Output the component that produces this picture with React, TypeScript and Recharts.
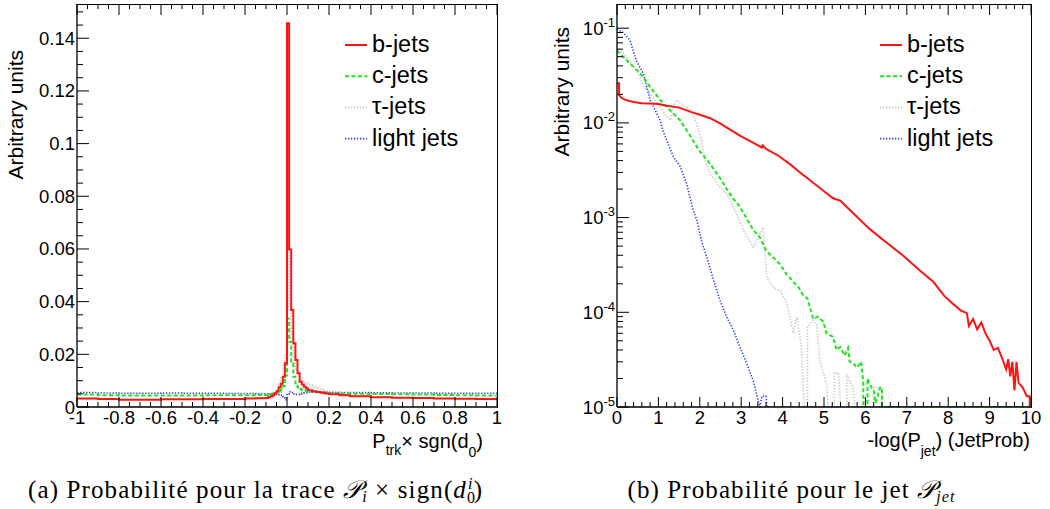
import React from 'react';
import { LineChart, Line, XAxis, YAxis, Legend } from 'recharts';

const SANS = '"Liberation Sans", Arial, Helvetica, sans-serif';
const SERIF = '"Liberation Serif", "DejaVu Serif", "DejaVu Sans", serif';
const INK = '#000';

// ---- (a) track probability x sign(d0), linear scale ----
// lower bin edges, the last entry closes the histogram at x = 1
const trkEdges = [
  -1, -0.9, -0.8, -0.7, -0.6, -0.5, -0.4, -0.3, -0.2, -0.15,
  -0.1, -0.09, -0.08, -0.07, -0.06, -0.05, -0.04, -0.03, -0.02, -0.01,
  0, 0.01, 0.02, 0.03, 0.04, 0.05, 0.06, 0.07, 0.08, 0.09,
  0.1, 0.12, 0.14, 0.16, 0.18, 0.2, 0.25, 0.3, 0.4, 0.5,
  0.6, 0.7, 0.8, 0.9, 1,
];
const trkB = [
  0.0032, 0.0030, 0.0028, 0.0028, 0.0029, 0.0029, 0.0030, 0.0030, 0.0032, 0.0033,
  0.0034, 0.0037, 0.0040, 0.0045, 0.0052, 0.0060, 0.0075, 0.0088, 0.0115, 0.0166,
  0.1457, 0.0598, 0.0368, 0.0242, 0.0178, 0.0128, 0.0096, 0.0085, 0.0077, 0.0070,
  0.0064, 0.0060, 0.0057, 0.0054, 0.0051, 0.0048, 0.0045, 0.0041, 0.0037, 0.0035,
  0.0034, 0.0032, 0.0031, 0.0030, 0.0030,
];
const trkC = [
  0.0047, 0.0045, 0.0044, 0.0044, 0.0044, 0.0044, 0.0045, 0.0045, 0.0045, 0.0046,
  0.0046, 0.0047, 0.0048, 0.0050, 0.0052, 0.0055, 0.0058, 0.0066, 0.0080, 0.0120,
  0.0335, 0.0248, 0.0166, 0.0115, 0.0090, 0.0075, 0.0068, 0.0064, 0.0062, 0.0060,
  0.0059, 0.0058, 0.0057, 0.0055, 0.0053, 0.0052, 0.0051, 0.0050, 0.0049, 0.0048,
  0.0047, 0.0046, 0.0045, 0.0044, 0.0044,
];
const trkTau = [
  0.0031, 0.0030, 0.0029, 0.0029, 0.0029, 0.0030, 0.0030, 0.0031, 0.0033, 0.0035,
  0.0038, 0.0042, 0.0046, 0.0052, 0.0058, 0.0065, 0.0085, 0.0110, 0.0166, 0.0200,
  0.0600, 0.0370, 0.0260, 0.0190, 0.0145, 0.0125, 0.0115, 0.0100, 0.0096, 0.0090,
  0.0083, 0.0075, 0.0071, 0.0065, 0.0060, 0.0054, 0.0048, 0.0042, 0.0038, 0.0035,
  0.0033, 0.0031, 0.0030, 0.0029, 0.0029,
];
const trkLight = [
  0.0055, 0.0053, 0.0052, 0.0052, 0.0053, 0.0052, 0.0052, 0.0051, 0.0051, 0.0050,
  0.0050, 0.0050, 0.0049, 0.0049, 0.0048, 0.0048, 0.0047, 0.0045, 0.0040, 0.0028,
  0.0050, 0.0058, 0.0055, 0.0050, 0.0048, 0.0048, 0.0050, 0.0052, 0.0053, 0.0054,
  0.0056, 0.0056, 0.0057, 0.0057, 0.0056, 0.0056, 0.0055, 0.0055, 0.0054, 0.0053,
  0.0053, 0.0052, 0.0052, 0.0052, 0.0052,
];
const trkMajorX = [-1, -0.8, -0.6, -0.4, -0.2, 0, 0.2, 0.4, 0.6, 0.8, 1];
const trkMajorY = [0, 0.02, 0.04, 0.06, 0.08, 0.1, 0.12, 0.14];
const trkRangeX = [-1, 1];
const trkRangeY = [0, 0.153];

// ---- (b) jet probability, log scale: [x, value] ----
// 1e-5 = empty bin, drawn on the bottom of the frame
const jetB: [number, number][] = [
  [0, 0.0262], [0.05, 0.0262], [0.05, 0.0197], [0.1, 0.0185], [0.2, 0.0175],
  [0.4, 0.0166], [0.6, 0.0161], [0.8, 0.016], [1.0, 0.0158], [1.2, 0.0152],
  [1.5, 0.0145], [1.8, 0.013], [2.0, 0.0122], [2.25, 0.0112], [2.5, 0.0098],
  [2.75, 0.0084], [3.0, 0.0072], [3.25, 0.0063], [3.5, 0.0055], [3.52, 0.0058],
  [3.6, 0.0053], [3.9, 0.0045], [4.2, 0.0036], [4.42, 0.003], [4.6, 0.0026],
  [5.0, 0.0019], [5.22, 0.0016], [5.4, 0.0015], [5.7, 0.00112], [6.1, 0.00076],
  [6.5, 0.00055], [6.9, 0.0004], [7.3, 0.00028], [7.64, 0.00021], [7.9, 0.00015],
  [8.05, 0.00013], [8.3, 0.000105], [8.45, 0.000098], [8.5, 0.000072], [8.6, 0.000085],
  [8.7, 0.000066], [8.8, 0.000078], [8.9, 0.00006], [9.0, 0.00005], [9.1, 0.00004],
  [9.2, 0.000042], [9.3, 0.000033], [9.4, 0.000025], [9.45, 0.000032], [9.5, 0.000021],
  [9.55, 0.00003], [9.6, 0.000015], [9.65, 0.00003], [9.7, 0.000018], [9.8, 0.000016],
  [9.9, 0.000013], [9.97, 0.000013], [9.97, 1e-5], [10, 1e-5],
];
const jetC: [number, number][] = [
  [0, 0.058], [0.25, 0.045], [0.56, 0.0334], [0.8, 0.024], [1.04, 0.0175],
  [1.2, 0.0148], [1.52, 0.0107], [1.75, 0.0075], [2.0, 0.005], [2.25, 0.0037],
  [2.49, 0.0026], [2.65, 0.002], [2.8, 0.0016], [2.97, 0.0013], [3.16, 0.00093],
  [3.29, 0.00074], [3.45, 0.00062], [3.6, 0.00045], [3.77, 0.00038], [3.94, 0.00032],
  [4.1, 0.00025], [4.18, 0.00023], [4.3, 0.0002], [4.4, 0.00018], [4.5, 0.00015],
  [4.6, 0.00014], [4.74, 0.000085], [4.85, 0.00009], [4.98, 0.00008], [5.06, 0.00006],
  [5.22, 0.000055], [5.3, 0.00004], [5.39, 0.000043], [5.5, 0.000035], [5.58, 0.000042],
  [5.62, 0.00003], [5.7, 0.000029], [5.8, 0.000026], [5.9, 0.00003], [5.95, 0.000018],
  [5.95, 1e-5], [6.05, 1e-5], [6.05, 0.00002], [6.15, 0.000016], [6.2, 0.000015],
  [6.25, 0.000011], [6.35, 0.000016], [6.4, 0.000016], [6.4, 1e-5], [10, 1e-5],
];
const jetTau: [number, number][] = [
  [0, 0.065], [0.25, 0.048], [0.47, 0.036], [0.64, 0.025], [0.85, 0.019],
  [1.04, 0.0148], [1.2, 0.0116], [1.3, 0.0107], [1.35, 0.015], [1.44, 0.0174],
  [1.52, 0.0163], [1.65, 0.015], [1.76, 0.0137], [1.9, 0.0105], [2.0, 0.0078],
  [2.13, 0.004], [2.25, 0.0029], [2.49, 0.0021], [2.65, 0.0018], [2.89, 0.0011],
  [3.05, 0.00074], [3.29, 0.00049], [3.4, 0.0006], [3.53, 0.00079], [3.6, 0.0003],
  [3.62, 0.00023], [3.8, 0.00018], [3.94, 0.00017], [4.1, 0.000125], [4.26, 0.00006],
  [4.34, 0.000089], [4.45, 0.000046], [4.52, 1e-5], [4.6, 1e-5], [4.6, 0.00007],
  [4.74, 0.000082], [4.82, 0.000075], [4.9, 0.000031], [5.06, 0.0000176], [5.1, 1e-5],
  [5.25, 1e-5], [5.25, 0.000023], [5.35, 0.000023], [5.4, 1e-5], [5.55, 1e-5],
  [5.55, 0.000022], [5.7, 0.000016], [5.75, 1e-5], [6.2, 1e-5], [6.2, 0.000016],
  [6.4, 0.000016], [6.4, 1e-5], [10, 1e-5],
];
const jetLight: [number, number][] = [
  [0, 0.098], [0.15, 0.09], [0.31, 0.075], [0.47, 0.045], [0.64, 0.033],
  [0.8, 0.0174], [0.88, 0.0148], [1.04, 0.0107], [1.12, 0.008], [1.2, 0.0066],
  [1.36, 0.0044], [1.52, 0.0035], [1.68, 0.0023], [1.84, 0.0012], [1.93, 0.00093],
  [2.05, 0.00055], [2.17, 0.00038], [2.33, 0.00022], [2.49, 0.000133], [2.65, 0.000089],
  [2.81, 0.000065], [2.97, 0.000043], [3.13, 0.000029], [3.29, 0.000019], [3.41, 0.0000117],
  [3.45, 1e-5], [3.5, 0.000013], [3.6, 0.000013], [3.62, 1e-5], [10, 1e-5],
];
const jetMajorX = [0, 1, 2, 3, 4, 5, 6, 7, 8, 9, 10];
const jetMajorY = [1e-5, 1e-4, 1e-3, 1e-2, 1e-1];
const jetRangeX = [0, 10];
const jetRangeY = [1e-5, 0.18];

const styles: Record<string, { color: string; dash?: string; width: number }> = {
  'b-jets': { color: '#ff1414', width: 2 },
  'c-jets': { color: '#1fe41f', dash: '4 2.5', width: 2 },
  'τ-jets': { color: '#c9c4bf', dash: '1.3 1.7', width: 1.6 },
  'light jets': { color: '#2a3bff', dash: '1.3 1.7', width: 1.6 },
};
const legendOrder = ['b-jets', 'c-jets', 'τ-jets', 'light jets'];

const trkRows = trkEdges.map((x, i) => ({
  x, b: trkB[i], c: trkC[i], tau: trkTau[i], light: trkLight[i],
}));
const toRows = (pts: [number, number][]) => pts.map(([x, v]) => ({ x, v }));

// axis decoration: every minor position, majors get the long tick and a label
const steps = (from: number, to: number, step: number) => {
  const n = Math.round((to - from) / step);
  const out: number[] = [];
  for (let i = 0; i <= n; i++) out.push(+(from + i * step).toFixed(6));
  return out;
};
const logSteps = () => {
  const out: number[] = [];
  for (let e = -5; e <= -1; e++)
    for (let k = 1; k <= 9; k++) {
      const v = +(k * Math.pow(10, e)).toPrecision(6);
      if (v <= 0.18) out.push(v);
    }
  return out;
};
const trkTicksX = steps(-1, 1, 0.05);
const trkTicksY = steps(0, 0.15, 0.005);
const jetTicksX = steps(0, 10, 0.2);
const jetTicksY = logSteps();

const near = (a: number, b: number) =>
  Math.abs(a - b) <= 1e-6 * Math.max(Math.abs(a), Math.abs(b), 1e-9);
const isMajor = (v: number, majors: number[]) => majors.some((m) => near(m, v));

const fmtNum = (v: number) => String(+v.toFixed(3));
const fmtPow = (v: number) => (
  <>
    10<tspan dy={-8} fontSize={13}>{Math.round(Math.log10(v))}</tspan>
  </>
);

const bottomTick = (majors: number[], fmt: (v: number) => React.ReactNode) => (p: any) => {
  const v = p.payload.value;
  const major = isMajor(v, majors);
  return (
    <g>
      <line x1={p.x} x2={p.x} y1={p.y} y2={p.y - (major ? 10 : 5)} stroke={INK} />
      {major && (
        <text x={p.x} y={p.y + 17} textAnchor="middle" fontSize={18.5} fontFamily={SANS} fill={INK}>
          {fmt(v)}
        </text>
      )}
    </g>
  );
};
const leftTick = (majors: number[], fmt: (v: number) => React.ReactNode) => (p: any) => {
  const v = p.payload.value;
  const major = isMajor(v, majors);
  return (
    <g>
      <line x1={p.x} x2={p.x + (major ? 12 : 6)} y1={p.y} y2={p.y} stroke={INK} />
      {major && (
        <text x={p.x - 2} y={p.y + 6.5} textAnchor="end" fontSize={18.5} fontFamily={SANS} fill={INK}>
          {fmt(v)}
        </text>
      )}
    </g>
  );
};

// ROOT-style closed frame with mirrored ticks on the top edge.
// The boxes are the plot areas set by the chart margins below.
type PlotBox = { left: number; top: number; w: number; h: number };
const trkBox: PlotBox = { left: 77, top: 4, w: 420, h: 403 };
const jetBox: PlotBox = { left: 617, top: 4, w: 414, h: 403 };

const FrameBorder = ({ box }: { box: PlotBox }) => (
  <div
    style={{
      position: 'absolute',
      left: box.left,
      top: box.top,
      width: box.w + 1,
      height: box.h + 1,
      boxSizing: 'border-box',
      borderTop: `1px solid ${INK}`,
      borderRight: `1px solid ${INK}`,
      pointerEvents: 'none',
    }}
  />
);

const FrameTicks = ({ box, ticks, majors, range }: {
  box: PlotBox; ticks: number[]; majors: number[]; range: number[];
}) => (
  <g stroke={INK} strokeWidth={1}>
    {ticks.map((t) => {
      const x = box.left + ((t - range[0]) / (range[1] - range[0])) * box.w;
      return <line key={t} x1={x} x2={x} y1={box.top} y2={box.top + (isMajor(t, majors) ? 11 : 5)} />;
    })}
  </g>
);

const renderLegend = (props: any) => {
  const items = [...(props.payload ?? [])]
    .filter((it: any) => styles[it.value])
    .sort((a: any, b: any) => legendOrder.indexOf(a.value) - legendOrder.indexOf(b.value));
  return (
    <svg width={150} height={130}>
      {items.map((it: any, i: number) => {
        const s = styles[it.value];
        const y = 14 + i * 31.2;
        return (
          <g key={it.value}>
            <line x1={0} x2={22} y1={y} y2={y} stroke={s.color} strokeWidth={s.width} strokeDasharray={s.dash} />
            <text x={27} y={y + 7} fontSize={23.5} fontFamily={SANS} fill={INK}>{it.value}</text>
          </g>
        );
      })}
    </svg>
  );
};

const frame = { stroke: INK, strokeWidth: 1.3 };

const seriesLines = (keys: Record<string, string>, data?: Record<string, any[]>) =>
  ['τ-jets', 'light jets', 'c-jets', 'b-jets'].map((name) => {
    const s = styles[name];
    return (
      <Line
        key={name}
        name={name}
        data={data ? data[name] : undefined}
        dataKey={keys[name]}
        type={data ? 'linear' : 'stepAfter'}
        stroke={s.color}
        strokeWidth={s.width}
        strokeDasharray={s.dash}
        dot={false}
        activeDot={false}
        isAnimationActive={false}
      />
    );
  });

const TrackChart = () => (
  <LineChart width={520} height={509} data={trkRows} margin={{ top: 4, right: 23, bottom: 72, left: 0 }}>
    <XAxis dataKey="x" type="number" domain={trkRangeX} allowDataOverflow ticks={trkTicksX} interval={0}
      tickSize={0} tickMargin={0} height={30} axisLine={frame} tick={bottomTick(trkMajorX, fmtNum)} />
    <YAxis type="number" domain={trkRangeY} allowDataOverflow ticks={trkTicksY} interval={0}
      tickSize={0} tickMargin={0} width={77} axisLine={frame} tick={leftTick(trkMajorY, fmtNum)} />
    <Legend layout="vertical" align="center" verticalAlign="middle" content={renderLegend}
      wrapperStyle={{ left: 345, top: 31, width: 150, height: 130 }} />
    {seriesLines({ 'b-jets': 'b', 'c-jets': 'c', 'τ-jets': 'tau', 'light jets': 'light' })}
  </LineChart>
);

const JetChart = () => (
  <LineChart width={530} height={509} margin={{ top: 4, right: 19, bottom: 72, left: 0 }}>
    <XAxis dataKey="x" type="number" domain={jetRangeX} allowDataOverflow ticks={jetTicksX} interval={0}
      tickSize={0} tickMargin={0} height={30} axisLine={frame} tick={bottomTick(jetMajorX, fmtNum)} />
    <YAxis type="number" scale="log" domain={jetRangeY} allowDataOverflow ticks={jetTicksY} interval={0}
      tickSize={0} tickMargin={0} width={97} axisLine={frame} tick={leftTick(jetMajorY, fmtPow)} />
    <Legend layout="vertical" align="center" verticalAlign="middle" content={renderLegend}
      wrapperStyle={{ left: 360, top: 31, width: 150, height: 130 }} />
    {seriesLines(
      { 'b-jets': 'v', 'c-jets': 'v', 'τ-jets': 'v', 'light jets': 'v' },
      {
        'b-jets': toRows(jetB),
        'c-jets': toRows(jetC),
        'τ-jets': toRows(jetTau),
        'light jets': toRows(jetLight),
      },
    )}
  </LineChart>
);

export default function App() {
  return (
    <div style={{ position: 'absolute', left: 0, top: 0, width: 1050, height: 509, background: '#fff' }}>
      <div style={{ position: 'absolute', left: 0, top: 0 }}>
        <TrackChart />
      </div>
      <div style={{ position: 'absolute', left: 520, top: 0 }}>
        <JetChart />
      </div>
      <FrameBorder box={trkBox} />
      <FrameBorder box={jetBox} />
      <svg width={1050} height={509} style={{ position: 'absolute', left: 0, top: 0, pointerEvents: 'none' }}>
        <FrameTicks box={trkBox} ticks={trkTicksX} majors={trkMajorX} range={trkRangeX} />
        <FrameTicks box={jetBox} ticks={jetTicksX} majors={jetMajorX} range={jetRangeX} />
        <g fontFamily={SANS} fill={INK}>
          <text transform="translate(23,50) rotate(-90)" textAnchor="end" fontSize={21}>Arbitrary units</text>
          <text transform="translate(569,27) rotate(-90)" textAnchor="end" fontSize={21}>Arbitrary units</text>
          <text x={483} y={448} textAnchor="end" fontSize={20}>
            P<tspan dy={7} fontSize={14}>trk</tspan><tspan dy={-7}>× sgn(d</tspan>
            <tspan dy={9} fontSize={14}>0</tspan><tspan dy={-9}>)</tspan>
          </text>
          <text x={1030} y={447} textAnchor="end" fontSize={20}>
            -log(P<tspan dy={9} fontSize={14}>jet</tspan><tspan dy={-9}>) (JetProb)</tspan>
          </text>
        </g>
        <g fontFamily={SERIF} fill={INK} fontSize={25}>
          <text x={255} y={498} textAnchor="middle" textLength={454} lengthAdjust="spacing">
            (a) Probabilité pour la trace <tspan fontStyle="italic">𝒫</tspan>
            <tspan fontSize={16} dy={4} fontStyle="italic">i</tspan>
            <tspan dy={-4}> × sign(</tspan><tspan fontStyle="italic">d</tspan>
            <tspan fontSize={16} dy={5}>0</tspan>
            <tspan fontSize={16} fontStyle="italic" dx={-8} dy={-14}>i</tspan>
            <tspan dy={9}>)</tspan>
          </text>
          <text x={791} y={498} textAnchor="middle" textLength={327} lengthAdjust="spacing">
            (b) Probabilité pour le jet <tspan fontStyle="italic">𝒫</tspan>
            <tspan fontSize={16} dy={4} fontStyle="italic">jet</tspan>
          </text>
        </g>
      </svg>
    </div>
  );
}
